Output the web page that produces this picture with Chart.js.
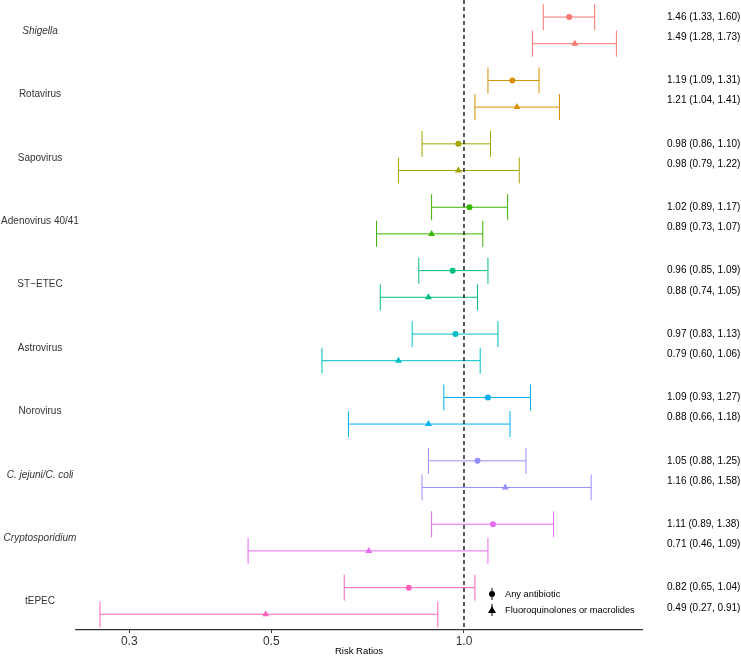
<!DOCTYPE html>
<html>
<head>
<meta charset="utf-8">
<script src="https://cdn.jsdelivr.net/npm/chart.js@4"></script>
<style>
  html, body { margin: 0; padding: 0; background: #fff; }
  #wrap { width: 741px; height: 657px; }
</style>
</head>
<body>
<div id="wrap"><canvas id="forest" width="741" height="657"></canvas></div>
<script>
// DATA
const pathogens = ["Shigella", "Rotavirus", "Sapovirus", "Adenovirus 40/41", "ST\u2212ETEC",
  "Astrovirus", "Norovirus", "C. jejuni/C. coli", "Cryptosporidium", "tEPEC"];
const italicNames = ["Shigella", "C. jejuni/C. coli", "Cryptosporidium"];
const colors = ["#F8766D", "#D89000", "#A3A500", "#39B600", "#00BF7D",
  "#00BFC4", "#00B0F6", "#9590FF", "#E76BF3", "#FF62BC"];

// any antibiotic
const anyRR = [1.46, 1.19, 0.98, 1.02, 0.96, 0.97, 1.09, 1.05, 1.11, 0.82];
const anyLo = [1.33, 1.09, 0.86, 0.89, 0.85, 0.83, 0.93, 0.88, 0.89, 0.65];
const anyHi = [1.60, 1.31, 1.10, 1.17, 1.09, 1.13, 1.27, 1.25, 1.38, 1.04];

// fluoroquinolones or macrolides
const fqRR = [1.49, 1.21, 0.98, 0.89, 0.88, 0.79, 0.88, 1.16, 0.71, 0.49];
const fqLo = [1.28, 1.04, 0.79, 0.73, 0.74, 0.60, 0.66, 0.86, 0.46, 0.27];
const fqHi = [1.73, 1.41, 1.22, 1.07, 1.05, 1.06, 1.18, 1.58, 1.09, 0.91];

const xTicks = [0.3, 0.5, 1.0];
const legendLabels = ["Any antibiotic", "Fluoroquinolones or macrolides"];

const OFF_ANY = -0.22, OFF_FQ = 0.2;
const FONT = "'Liberation Sans', Arial, sans-serif";

function rows(rr, lo, hi, off) {
  return rr.map((v, i) => ({ x: v, y: i + off, lo: lo[i], hi: hi[i] }));
}

// error bars, reference line, row labels, estimates, legend
const forestExtras = {
  id: "forestExtras",
  beforeDatasetsDraw(chart) {
    const { ctx, scales: { x, y } } = chart;
    chart.data.datasets.forEach((ds) => {
      ds.data.forEach((d, i) => {
        const yy = y.getPixelForValue(d.y);
        const x0 = x.getPixelForValue(d.lo);
        const x1 = x.getPixelForValue(d.hi);
        ctx.save();
        ctx.strokeStyle = colors[i];
        ctx.lineWidth = 1;
        ctx.beginPath();
        ctx.moveTo(x0, yy); ctx.lineTo(x1, yy);
        ctx.moveTo(x0, yy - 13); ctx.lineTo(x0, yy + 13);
        ctx.moveTo(x1, yy - 13); ctx.lineTo(x1, yy + 13);
        ctx.stroke();
        ctx.restore();
      });
    });
  },
  afterDatasetsDraw(chart) {
    const { ctx, chartArea, scales: { x, y } } = chart;
    // reference line at 1
    const xr = x.getPixelForValue(1);
    ctx.save();
    ctx.strokeStyle = "#000";
    ctx.lineWidth = 1.3;
    ctx.setLineDash([4, 3]);
    ctx.beginPath();
    ctx.moveTo(xr, chartArea.top);
    ctx.lineTo(xr, chartArea.bottom);
    ctx.stroke();
    ctx.restore();

    // row labels, centred in the left margin
    ctx.save();
    ctx.fillStyle = "#333";
    ctx.textBaseline = "middle";
    ctx.textAlign = "center";
    pathogens.forEach((p, i) => {
      ctx.font = (italicNames.includes(p) ? "italic " : "") + "10px " + FONT;
      ctx.fillText(p, 40, y.getPixelForValue(i));
    });
    ctx.restore();

    // estimates text on the right
    ctx.save();
    ctx.fillStyle = "#000";
    ctx.font = "10px " + FONT;
    ctx.textBaseline = "middle";
    ctx.textAlign = "left";
    const tx = 667;
    pathogens.forEach((p, i) => {
      ctx.fillText(`${anyRR[i].toFixed(2)} (${anyLo[i].toFixed(2)}, ${anyHi[i].toFixed(2)})`, tx, y.getPixelForValue(i - 0.22));
      ctx.fillText(`${fqRR[i].toFixed(2)} (${fqLo[i].toFixed(2)}, ${fqHi[i].toFixed(2)})`, tx, y.getPixelForValue(i + 0.1));
    });
    ctx.restore();

    // legend
    ctx.save();
    ctx.fillStyle = "#000";
    ctx.strokeStyle = "#000";
    ctx.lineWidth = 1;
    ctx.font = "9.3px " + FONT;
    ctx.textBaseline = "middle";
    const lx = 492, ly = [594, 610];
    ly.forEach((yy, k) => {
      ctx.beginPath();
      ctx.moveTo(lx, yy - 6); ctx.lineTo(lx, yy + 6);
      ctx.stroke();
      ctx.beginPath();
      if (k === 0) {
        ctx.arc(lx, yy, 3, 0, Math.PI * 2);
      } else {
        ctx.moveTo(lx, yy - 4); ctx.lineTo(lx + 4, yy + 3); ctx.lineTo(lx - 4, yy + 3);
        ctx.closePath();
      }
      ctx.fill();
      ctx.fillText(legendLabels[k], lx + 13, yy);
    });
    ctx.restore();
  }
};

new Chart(document.getElementById("forest"), {
  type: "scatter",
  data: {
    datasets: [
      {
        label: legendLabels[0],
        data: rows(anyRR, anyLo, anyHi, OFF_ANY),
        pointStyle: "circle",
        pointRadius: 3,
        backgroundColor: colors,
        borderColor: colors,
        borderWidth: 0
      },
      {
        label: legendLabels[1],
        data: rows(fqRR, fqLo, fqHi, OFF_FQ),
        pointStyle: "triangle",
        pointRadius: 4,
        backgroundColor: colors,
        borderColor: colors,
        borderWidth: 0
      }
    ]
  },
  options: {
    responsive: false,
    animation: false,
    layout: { autoPadding: false, padding: { left: 0, right: 99, top: 0, bottom: 0 } },
    plugins: { legend: { display: false }, tooltip: { enabled: false } },
    scales: {
      x: {
        type: "logarithmic",
        min: 0.2477,
        max: 1.897,
        afterBuildTicks: (scale) => { scale.ticks = xTicks.map((v) => ({ value: v })); },
        afterFit: (scale) => { scale.height = 27; },
        ticks: {
          callback: (v) => Number(v).toFixed(1),
          color: "#333",
          font: { family: FONT, size: 12 },
          padding: 1,
          maxRotation: 0,
          autoSkip: false
        },
        grid: { display: true, drawOnChartArea: false, drawTicks: true, tickLength: 3, color: "#333" },
        border: { display: true, color: "#333", width: 1.2 },
        title: { display: true, text: "Risk Ratios", color: "#000", font: { family: FONT, size: 9.5 }, padding: 0 }
      },
      y: {
        type: "linear",
        reverse: true,
        min: -0.489,
        max: 9.448,
        afterFit: (scale) => { scale.width = 76; },
        ticks: { display: false },
        grid: { display: false },
        border: { display: false }
      }
    }
  },
  plugins: [forestExtras]
});
</script>
</body>
</html>
